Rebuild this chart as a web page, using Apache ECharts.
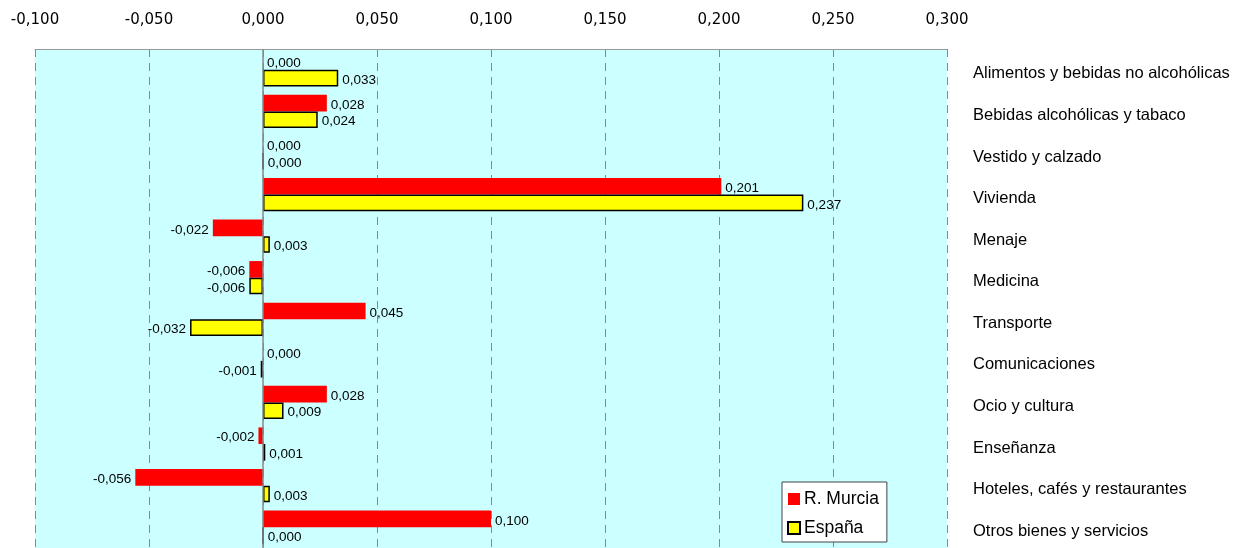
<!DOCTYPE html>
<html>
<head>
<meta charset="utf-8">
<script src="https://cdn.jsdelivr.net/npm/echarts@6/dist/echarts.min.js"></script>
<style>html,body{margin:0;padding:0;background:#fff}#c{width:1244px;height:548px}</style>
</head>
<body>
<div id="c"></div>
<script>
const categories = ["Alimentos y bebidas no alcohólicas","Bebidas alcohólicas y tabaco","Vestido y calzado","Vivienda","Menaje","Medicina","Transporte","Comunicaciones","Ocio y cultura","Enseñanza","Hoteles, cafés y restaurantes","Otros bienes y servicios"];
const murcia = [0.000, 0.028, 0.000, 0.201, -0.022, -0.006, 0.045, 0.000, 0.028, -0.002, -0.056, 0.100];
const espana = [0.033, 0.024, 0.000, 0.237, 0.003, -0.006, -0.032, -0.001, 0.009, 0.001, 0.003, 0.000];
const seriesNames = ["R. Murcia", "España"];

const fmt = v => v.toFixed(3).replace('.', ',');
const toData = arr => arr.map(v => ({value: v, label: {position: v < 0 ? 'left' : 'right'}}));

const chart = echarts.init(document.getElementById('c'), null, {renderer: 'canvas'});
chart.setOption({
  animation: false,
  grid: {left: 35, right: 297, top: 49, bottom: -3, show: true, backgroundColor: '#CCFFFF', borderWidth: 0},
  legend: {
    orient: 'vertical', left: 782, top: 482, itemWidth: 12, itemHeight: 12, itemGap: 11,
    padding: [8, 8, 5, 5],
    backgroundColor: '#fff', borderColor: '#444', borderWidth: 1,
    textStyle: {fontFamily: 'Liberation Sans', fontSize: 17.5, color: '#000', padding: [0,0,0,-1]},
    data: [{name: seriesNames[0], icon: 'rect'}, {name: seriesNames[1], icon: 'rect'}]
  },
  xAxis: {
    type: 'value', position: 'top', min: -0.1, max: 0.3, interval: 0.05,
    axisLine: {show: true, onZero: false, lineStyle: {color: '#999', width: 1}},
    axisTick: {show: false},
    axisLabel: {formatter: fmt, fontFamily: 'DejaVu Sans', fontSize: 15, color: '#000', margin: 21},
    splitLine: {show: true, lineStyle: {color: '#888', type: [8, 6], width: 1}}
  },
  yAxis: {
    type: 'category', data: categories, inverse: true, position: 'right',
    axisLine: {show: false}, axisTick: {show: false},
    axisLabel: {fontFamily: 'Liberation Sans', fontSize: 16.5, color: '#000', align: 'left', margin: 26, verticalAlign: 'top', lineHeight: 8},
    splitLine: {show: false}
  },
  series: [
    {
      name: seriesNames[0], type: 'bar', data: toData(murcia), barGap: '0%', barCategoryGap: '20%',
      itemStyle: {color: '#FF0000'},
      label: {show: true, formatter: p => fmt(p.value), fontFamily: 'Liberation Sans', fontSize: 13.5, color: '#000', distance: 4, offset: [0, 2]},
      markLine: {silent: true, symbol: 'none', label: {show: false}, lineStyle: {color: '#888', type: 'solid', width: 1.5}, data: [{xAxis: 0}]}
    },
    {
      name: seriesNames[1], type: 'bar', data: toData(espana), barGap: '0%', barCategoryGap: '20%',
      itemStyle: {color: '#FFFF00', borderColor: '#000', borderWidth: 1.5},
      label: {show: true, formatter: p => fmt(p.value), fontFamily: 'Liberation Sans', fontSize: 13.5, color: '#000', distance: 4, offset: [0, 2]}
    }
  ]
});
</script>
</body>
</html>
